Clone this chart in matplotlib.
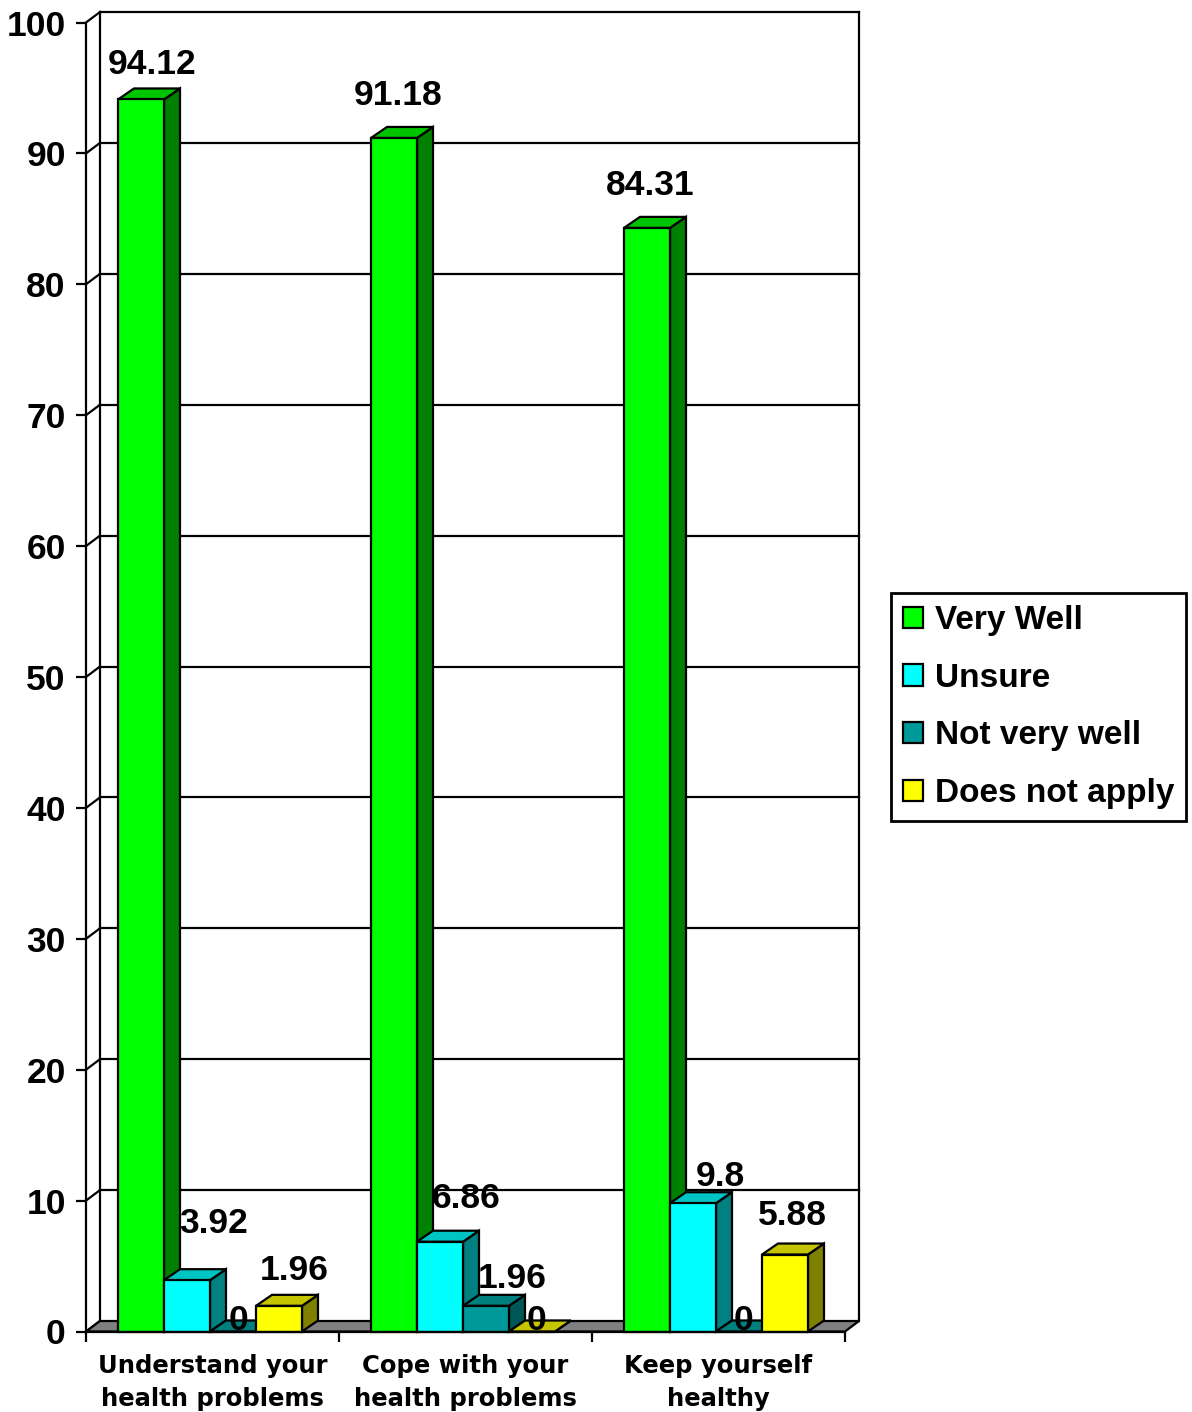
import matplotlib
matplotlib.use('Agg')
import matplotlib.pyplot as plt
from matplotlib.patches import Polygon
import numpy as np

categories = ['Understand your\nhealth problems', 'Cope with your\nhealth problems',
              'Keep yourself\nhealthy']
series = ['Very Well', 'Unsure', 'Not very well', 'Does not apply']
very_well = [94.12, 91.18, 84.31]
unsure = [3.92, 6.86, 9.8]
not_very_well = [0, 1.96, 0]
does_not_apply = [1.96, 0, 5.88]
values = [very_well, unsure, not_very_well, does_not_apply]
y_ticks = [0, 10, 20, 30, 40, 50, 60, 70, 80, 90, 100]

# front / top / side shades for the 3d columns
front_cols = ['#00FF00', '#00FFFF', '#009999', '#FFFF00']
top_cols = ['#00C400', '#00C4C4', '#007F7F', '#C4C400']
side_cols = ['#008000', '#008080', '#005757', '#808000']

# label nudges in pixels (dx, dy) per series, per category
label_nudge = [[(3, -24), (-4, -31), (-5, -31)],
               [(19, -46), (18, -32), (19, -16)],
               [(-3, 0), (18, -16), (-3, 0)],
               [(7, -24), (-3, 0), (-1, -28)]]

W, H = 1192, 1412
fig = plt.figure(figsize=(W / 100, H / 100), dpi=100)
ax_l, ax_r, ax_b, ax_t = 86, 845, 1331.5, 22.5
ax = fig.add_axes([ax_l / W, 1 - ax_b / H, (ax_r - ax_l) / W, (ax_b - ax_t) / H])
ax.set_xlim(-0.5, 2.5)
ax.set_ylim(0, 100)

px_x = (ax_r - ax_l) / 3.0      # pixels per category
px_y = (ax_b - ax_t) / 100.0    # pixels per unit
wall_dx, wall_dy = 14 / px_x, 10.5 / px_y
bar_dx, bar_dy = 16 / px_x, 11 / px_y
bw = 46 / px_x
first_off = 32 / px_x

LW = 1.6
FONT = 'Liberation Sans'
FS = 25.5

# back wall, gridlines and the little diagonals on the side wall
x0w, x1w = -0.5 + wall_dx, 2.5 + wall_dx
for t in y_ticks:
    if t > 0:
        ax.plot([x0w, x1w], [t + wall_dy, t + wall_dy], color='black', lw=LW,
                clip_on=False, zorder=1)
    ax.plot([-0.5, x0w], [t, t + wall_dy], color='black', lw=LW, clip_on=False, zorder=1)
ax.plot([x0w, x0w], [wall_dy, 100 + wall_dy], color='black', lw=LW, clip_on=False, zorder=1)
ax.plot([x1w, x1w], [wall_dy, 100 + wall_dy], color='black', lw=LW, clip_on=False, zorder=1)

# floor
floor = Polygon([(-0.5, 0), (2.5, 0), (x1w, wall_dy), (x0w, wall_dy)], closed=True,
                facecolor='#808080', edgecolor='black', lw=LW, zorder=2, clip_on=False)
ax.add_patch(floor)

# columns, left to right so later faces cover earlier side faces
z = 3
handles = []
for j in range(len(categories)):
    for i in range(len(series)):
        v = values[i][j]
        x0 = j - 0.5 + first_off + i * bw
        x1 = x0 + bw
        b = ax.bar(x0, v, width=bw, align='edge', color=front_cols[i],
                   edgecolor='black', lw=LW, zorder=z + 2, clip_on=False)
        if j == 0:
            handles.append(b)
        side = Polygon([(x1, 0), (x1 + bar_dx, bar_dy), (x1 + bar_dx, v + bar_dy), (x1, v)],
                       closed=True, facecolor=side_cols[i], edgecolor='black', lw=LW,
                       zorder=z, clip_on=False)
        top = Polygon([(x0, v), (x1, v), (x1 + bar_dx, v + bar_dy), (x0 + bar_dx, v + bar_dy)],
                      closed=True, facecolor=top_cols[i], edgecolor='black', lw=LW,
                      zorder=z + 1, clip_on=False)
        ax.add_patch(side)
        ax.add_patch(top)
        z += 3

# value labels
for j in range(len(categories)):
    for i in range(len(series)):
        v = values[i][j]
        x0 = j - 0.5 + first_off + i * bw
        dx, dy = label_nudge[i][j]
        ax.annotate('%g' % v, xy=(x0 + bw / 2 + bar_dx / 2, v + bar_dy),
                    xytext=(dx * 0.72, -dy * 0.72), textcoords='offset points',
                    ha='center', va='center', fontsize=FS, fontweight='bold',
                    family=FONT, zorder=100, annotation_clip=False)

# axes: only the front left and bottom lines
for s in ['top', 'right']:
    ax.spines[s].set_visible(False)
for s in ['left', 'bottom']:
    ax.spines[s].set_linewidth(LW)
    ax.spines[s].set_zorder(90)
ax.set_yticks(y_ticks)
ax.set_yticklabels([str(t) for t in y_ticks], fontsize=FS, fontweight='bold', family=FONT)
ax.tick_params(axis='y', direction='out', length=7.5, width=LW, pad=7)
ax.set_xticks([-0.5, 0.5, 1.5, 2.5])
ax.set_xticklabels([])
ax.tick_params(axis='x', which='major', direction='out', length=7.5, width=LW)
ax.set_xticks([0, 1, 2], minor=True)
ax.set_xticklabels(categories, minor=True, fontsize=17.5, fontweight='bold',
                   family='DejaVu Sans', linespacing=1.5)
ax.tick_params(axis='x', which='minor', length=0, pad=16)
ax.set_facecolor('none')

leg = fig.legend([h[0] for h in handles], series, loc='center left',
                 bbox_to_anchor=(891 / W, 1 - 707 / H), bbox_transform=fig.transFigure,
                 prop={'family': FONT, 'weight': 'bold', 'size': 24},
                 handlelength=0.6, handleheight=0.6, handletextpad=0.35,
                 labelspacing=0.8, borderpad=0.36, borderaxespad=0,
                 fancybox=False, framealpha=1, edgecolor='black')
leg.get_frame().set_linewidth(2)

fig.savefig('out.png', dpi=100)
